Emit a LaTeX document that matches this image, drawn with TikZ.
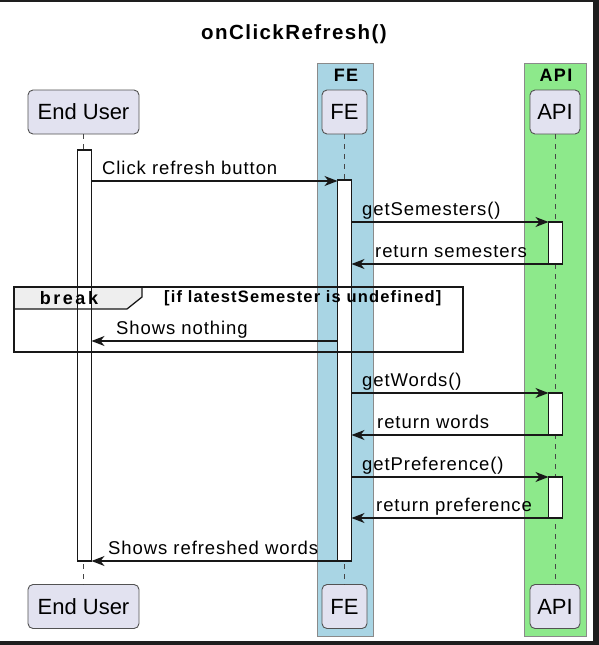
\documentclass[tikz,border=0pt]{standalone}
\usepackage{fontspec}
\setmainfont{Liberation Sans}
\newfontfamily\msgfont[LetterSpace=5]{Liberation Sans}
\newfontfamily\titlefont[LetterSpace=7]{Liberation Sans}
\newfontfamily\brkfont[LetterSpace=14]{Liberation Sans}
\newfontfamily\condfont[LetterSpace=7]{Liberation Sans}
\newfontfamily\grpfont[LetterSpace=8]{Liberation Sans}
\usetikzlibrary{arrows.meta}
\definecolor{feblue}{HTML}{A9D5E4}
\definecolor{apigreen}{HTML}{8DE98B}
\definecolor{partfill}{HTML}{E2E2F0}
\definecolor{ink}{HTML}{181818}
\definecolor{grpborder}{HTML}{8A8A8A}
\definecolor{framedark}{HTML}{1E1E1E}
\definecolor{tabfill}{HTML}{EEEEEE}
\begin{document}
\begin{tikzpicture}[x=1pt,y=-1pt,
  part/.style={draw=ink!75, line width=0.9pt, fill=partfill, rounded corners=5pt,
    minimum height=44pt, inner sep=0pt, outer sep=0pt, font=\fontsize{22}{26}\selectfont},
  grpbox/.style={draw=grpborder, line width=0.9pt, inner sep=0pt, outer sep=0pt, anchor=north west},
  grplabel/.style={font=\grpfont\bfseries\fontsize{18}{21}\selectfont, inner sep=0pt},
  life/.style={draw=ink!80, line width=0.8pt, dash pattern=on 5pt off 5pt},
  act/.style={draw=ink, line width=1.2pt, fill=white, minimum width=14pt, inner sep=0pt, outer sep=0pt, anchor=north},
  msg/.style={draw=ink, line width=1.3pt, -{Stealth[length=13pt,width=10pt,inset=4pt]}},
  lbl/.style={font=\msgfont\fontsize{18.5}{21}\selectfont, inner sep=0pt, anchor=base west},
]
\useasboundingbox (0,0) rectangle (599,645);
\fill[white] (0,0) rectangle (599,645);
\fill[framedark] (0,0) rectangle (599,1.6);
\fill[framedark] (593,0) rectangle (599,645);
\fill[framedark] (0,641) rectangle (599,645);

% title
\node[font=\titlefont\bfseries\fontsize{20.5}{24}\selectfont, inner sep=0pt] (title) at (294,34) {onClickRefresh()};

% groups
\node[grpbox, fill=feblue, minimum width=56pt, minimum height=573pt] (gfe) at (317,63) {};
\node[grpbox, fill=apigreen, minimum width=62pt, minimum height=573pt] (gapi) at (524,63) {};
\node[grplabel] (gfel) at (346,75.5) {FE};
\node[grplabel] (gapil) at (556,75.5) {API};

% participants
\node[part, minimum width=111pt] (eu) at (83.5,112) {End User};
\node[part, minimum width=45pt] (fe) at (344.5,112) {FE};
\node[part, minimum width=50pt] (api) at (555,112) {API};
\node[part, minimum width=111pt] (eub) at (83.5,606.5) {End User};
\node[part, minimum width=45pt] (feb) at (344.5,606.5) {FE};
\node[part, minimum width=50pt] (apib) at (555,606.5) {API};

% lifelines
\draw[life] (eu) -- (eub);
\draw[life] (fe) -- (feb);
\draw[life] (api) -- (apib);

% break tab fill (under activations)
\fill[tabfill] (14,287) -- (142,287) -- (142,297) -- (127,309) -- (14,309) -- cycle;

% activations
\node[act, minimum height=411pt] (a1) at (84.5,150) {};
\node[act, minimum height=381pt] (a2) at (344.5,180) {};
\node[act, minimum height=42pt] (a3) at (555.5,222) {};
\node[act, minimum height=42pt] (a4) at (555.5,393) {};
\node[act, minimum height=41pt] (a5) at (555.5,477) {};

% message rows
\coordinate (m1) at (0,181);
\coordinate (m2) at (0,222);
\coordinate (m3) at (0,264);
\coordinate (m4) at (0,341);
\coordinate (m5) at (0,393);
\coordinate (m6) at (0,435);
\coordinate (m7) at (0,477);
\coordinate (m8) at (0,518);
\coordinate (m9) at (0,561);

\draw[msg] (a1.east |- m1) -- (a2.west |- m1);
\node[lbl] (l1) at (102,174.3) {Click refresh button};
\draw[msg] (a2.east |- m2) -- (a3.west |- m2);
\node[lbl] (l2) at (362,215.3) {getSemesters()};
\draw[msg] (a3.west |- m3) -- (a2.east |- m3);
\node[lbl] (l3) at (375,257.3) {return semesters};
\draw[msg] (a2.west |- m4) -- (a1.east |- m4);
\node[lbl] (l4) at (116,334.3) {Shows nothing};
\draw[msg] (a2.east |- m5) -- (a4.west |- m5);
\node[lbl] (l5) at (362,386.3) {getWords()};
\draw[msg] (a4.west |- m6) -- (a2.east |- m6);
\node[lbl] (l6) at (377,428.3) {return words};
\draw[msg] (a2.east |- m7) -- (a5.west |- m7);
\node[lbl] (l7) at (362,470.3) {getPreference()};
\draw[msg] (a5.west |- m8) -- (a2.east |- m8);
\node[lbl] (l8) at (376,511.3) {return preference};
\draw[msg] (a2.west |- m9) -- (a1.east |- m9);
\node[lbl] (l9) at (108,554.3) {Shows refreshed words};

% break frame
\draw[ink, line width=1.8pt] (14,287) rectangle (463,352);
\draw[ink, line width=1.3pt] (142,287) -- (142,297) -- (127,309) -- (14,309);
\node[font=\brkfont\bfseries\fontsize{18}{21}\selectfont, inner sep=0pt] (brk) at (69,298) {break};
\node[font=\condfont\bfseries\fontsize{16.5}{19}\selectfont, inner sep=0pt, anchor=west] (cond) at (164,298) {[if latestSemester is undefined]};
\end{tikzpicture}
\end{document}
